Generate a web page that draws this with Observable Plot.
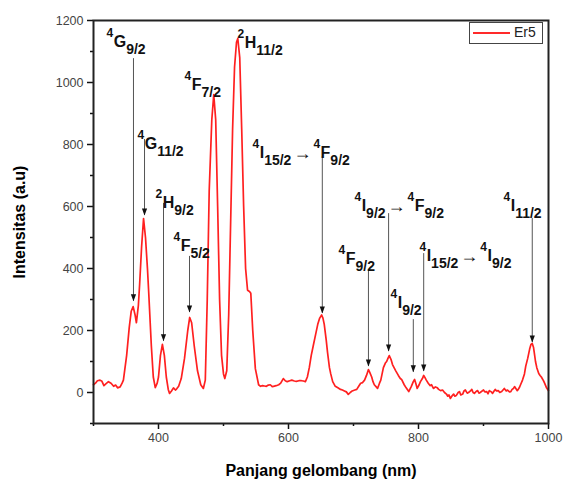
<!DOCTYPE html>
<html><head><meta charset="utf-8">
<script src="https://cdn.jsdelivr.net/npm/d3@7"></script>
<script src="https://cdn.jsdelivr.net/npm/@observablehq/plot@0.6"></script>
<style>
html,body{margin:0;padding:0;background:#fff;}
#wrap{position:relative;width:563px;height:482px;}
#legend{position:absolute;left:469px;top:22px;width:74px;height:22px;border:1.5px solid #444;box-sizing:border-box;font-family:"Liberation Sans",Arial,sans-serif;font-size:14px;color:#222;background:#fff;}
#legend .sw{position:absolute;left:3px;top:9px;width:37px;height:2px;background:#ff2a2a;}
#legend .lt{position:absolute;left:44px;top:1px;}
svg g[aria-label="x-axis label"] text, svg g[aria-label="y-axis label"] text{font-weight:bold;font-size:16px;fill:#000;}
</style>
</head><body>
<div id="wrap"><div id="chart"></div><div id="legend"><span class="sw"></span><span class="lt"></span></div></div>
<script>
const seriesName = "Er5";
const wavelength = [300,303,306,310,313,316,319,323,327,331,334,337,341,344,346,351,355,358,361,364,366,369,371,374,377,380,383,385,389,392,395,398,400,403,406,409,412,415,417,420,423,426,428,431,435,440,445,448,451,455,460,465,469,472,475,478,482,485,488,491,494,497,500,502,505,508,511,514,517,520,522,525,528,531,534,537,540,542,545,549,554,557,560,563,566,569,572,575,577,581,585,588,592,595,598,602,605,609,612,616,620,623,626,629,632,635,638,642,645,648,651,653,655,658,660,663,665,668,672,676,680,683,686,689,692,695,698,702,705,708,711,714,717,720,723,725,728,730,732,735,737,740,742,746,749,751,753,755,758,760,763,765,769,772,774,778,781,785,789,792,794,796,798,801,803,806,808,810,812,815,818,820,823,826,829,831,834,837,840,843,845,847,849,852,854,856,858,861,863,865,868,870,872,875,877,880,882,884,886,889,891,893,895,898,900,902,905,907,909,912,914,916,918,920,923,925,928,930,932,935,937,940,942,944,946,948,949,952,955,957,960,963,965,968,971,973,975,977,978,980,982,985,987,989,992,994,997,1000];
const intensity = [25,30,38,40,36,22,28,35,30,20,24,15,18,30,40,120,210,262,277,250,225,280,350,470,561,500,400,320,150,50,16,30,50,120,155,120,50,10,-3,5,15,8,12,20,45,110,200,242,225,150,70,25,13,40,300,650,880,961,880,600,300,120,60,45,70,250,550,850,1050,1130,1142,1080,850,600,400,330,326,320,200,77,25,20,22,21,20,24,25,19,20,22,25,30,45,38,35,38,40,37,36,38,38,37,35,50,80,120,150,190,220,240,250,240,220,170,130,80,60,35,20,15,10,8,5,2,-6,0,5,8,10,20,30,32,40,55,74,65,50,35,25,18,13,30,40,80,95,100,110,119,105,90,78,70,55,45,42,25,15,3,20,35,42,28,13,25,35,45,55,48,40,30,22,25,13,18,15,10,6,8,0,-5,-12,-8,-19,-10,-5,-12,-10,0,3,-8,-5,5,8,-2,0,5,10,0,-3,4,6,-2,0,5,8,2,3,-4,6,2,-3,4,10,5,6,0,3,8,13,5,8,2,3,10,13,19,15,6,15,25,40,60,85,110,140,155,158,145,130,100,80,61,55,50,39,30,15,6];

const labelText = ["4G9/2","4G11/2","2H9/2","4F5/2","4F7/2","2H11/2","4I15/2→4F9/2","4I9/2→4F9/2","4F9/2","4I9/2","4I15/2→4I9/2","4I11/2"];
const labelX = [320,367.7,395.4,423,440,521.5,544.6,701.5,676.9,757,801.5,930.8];
const labelY = [1116,787,594,455,977,1110,758,584,416,271,423,584];

const arrowX = [361.5,378.5,407.7,447.7,652,754,723,792,808,975];
const arrowTop = [1077,816,610,439,761,577,397,235,448,561];
const arrowTip = [294,571,165,258,255,132,84,65,68,161];

const xMajorTicks = [400,600,800,1000];
const xMinorTicks = [300,500,700,900];
const yMajorTicks = [0,200,400,600,800,1000,1200];
const yMinorTicks = [-100,100,300,500,700,900,1100];

const spectrum = wavelength.map((w,i)=>({w, v:intensity[i]}));
const downTri = {draw(ctx, size){ const w=2.6, h=7; ctx.moveTo(-w,-h); ctx.lineTo(w,-h); ctx.lineTo(0,0); ctx.closePath(); }};
const plain = d => String(d);

const chart = Plot.plot({
  width:563, height:482,
  marginLeft:93, marginRight:15, marginTop:20, marginBottom:59,
  x:{domain:[300,1000]},
  y:{domain:[-100,1200]},
  style:{fontFamily:'"Liberation Sans", Arial, sans-serif', fontSize:"12.5px", background:"#fff", color:"#111", overflow:"visible"},
  marks:[
    Plot.axisX(xMinorTicks,{tickSize:3, tickFormat:()=>"", label:null, stroke:"#111", strokeWidth:1.5}),
    Plot.axisX(xMajorTicks,{tickSize:6, tickPadding:4, tickFormat:plain, fill:"#444", stroke:"#111", strokeWidth:1.5, label:"Panjang gelombang (nm)", labelAnchor:"center", labelArrow:"none", labelOffset:52}),
    Plot.axisY(yMinorTicks,{tickSize:3, tickFormat:()=>"", label:null, stroke:"#111", strokeWidth:1.5}),
    Plot.axisY(yMajorTicks,{tickSize:6, tickPadding:4, tickFormat:plain, fill:"#444", stroke:"#111", strokeWidth:1.5, label:"Intensitas (a.u)", labelAnchor:"center", labelArrow:"none", labelOffset:80}),
    Plot.line(spectrum,{x:"w", y:"v", stroke:"#ff2020", strokeWidth:1.7}),
    Plot.ruleX(arrowX,{x:d=>d, y1:arrowTop, y2:arrowTip, stroke:"#555", strokeWidth:1}),
    Plot.dot(arrowX,{x:d=>d, y:arrowTip, symbol:downTri, r:3, fill:"#111", stroke:null}),
    Plot.text(labelText,{x:labelX, y:labelY, text:d=>d, textAnchor:"start", lineAnchor:"bottom", fontWeight:"bold", fontSize:16, fill:"#111", className:"ann"}),
    Plot.frame({stroke:"#222", strokeWidth:2})
  ]
});
document.getElementById("chart").appendChild(chart);
document.querySelector("#legend .lt").textContent = seriesName;

d3.select(chart).selectAll("g.ann text").each(function(){
  const s = this.textContent;
  const t = d3.select(this);
  t.attr("dy", null).text(null);
  let cur = 0, first = true;
  const re = /(\d)([A-Z])(\d+\/\d)|→/g;
  for (const m of s.matchAll(re)) {
    if (m[0] === "→") {
      t.append("tspan").attr("font-size",18).attr("dx",2).attr("dy",1-cur).text("→");
      cur = 1; continue;
    }
    const sup = t.append("tspan").attr("font-size",12).attr("dy",-10-cur).text(m[1]);
    if (!first) sup.attr("dx",2);
    cur = -10;
    t.append("tspan").attr("font-size",16).attr("dx",0.5).attr("dy",0-cur).text(m[2]);
    cur = 0;
    t.append("tspan").attr("font-size",14).attr("dy",7-cur).text(m[3]);
    cur = 7;
    first = false;
  }
});
</script>
</body></html>
